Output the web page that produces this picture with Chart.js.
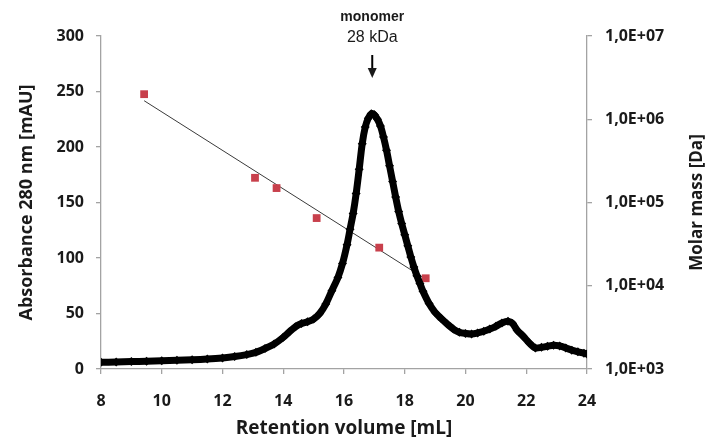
<!DOCTYPE html>
<html>
<head>
<meta charset="utf-8">
<script src="https://cdn.jsdelivr.net/npm/chart.js@4.4.0/dist/chart.umd.min.js"></script>
<style>
    html, body { margin: 0; padding: 0; background: #fff; }
    #wrap { width: 720px; height: 446px; }
</style>
</head>
<body>
<div id="wrap"><canvas id="sec" width="720" height="446"></canvas></div>
<script>
// ===================================
// SEC chromatogram + calibration
// ===================================

// absorbance trace (retention volume mL / mAU)
const volume = [
    8.0, 8.5, 9.0, 9.5, 10.0, 10.5, 11.0, 11.5, 12.0, 12.4, 12.8, 13.1, 13.4, 13.7,
    14.0, 14.2, 14.4, 14.6, 14.8, 15.0, 15.2, 15.4, 15.6, 15.8, 15.95, 16.1, 16.2,
    16.3, 16.4, 16.5, 16.6, 16.7, 16.8, 16.9, 17.0, 17.1, 17.2, 17.3, 17.4, 17.5,
    17.6, 17.7, 17.8, 17.9, 18.0, 18.1, 18.2, 18.3, 18.4, 18.5, 18.6, 18.8, 19.0,
    19.2, 19.4, 19.6, 19.8, 20.0, 20.2, 20.4, 20.6, 20.8, 21.0, 21.2, 21.4, 21.55,
    21.7, 21.9, 22.1, 22.3, 22.5, 22.7, 22.9, 23.1, 23.3, 23.5, 23.7, 23.9, 24.0
];
const absorbance = [
    6.0, 6.3, 6.7, 7.0, 7.4, 7.8, 8.3, 9.0, 10.0, 11.2, 13.0, 15.0, 18.5, 22.5,
    28.5, 33.5, 38.0, 41.0, 42.5, 45.0, 50.0, 58.5, 70.5, 82.5, 95, 112, 126,
    140, 158, 180, 203, 218, 226, 230, 229, 225, 219, 209, 197, 183,
    169, 155, 142, 131, 121, 111, 101, 92, 84, 77, 70, 59, 51,
    45.5, 40.5, 36, 33, 32, 31.5, 32.5, 34, 36, 38.5, 41.5, 43, 41,
    35, 29.5, 23.5, 19, 19.5, 20.5, 21.5, 20.8, 19, 17, 15.5, 14.3, 13.5
];

// calibration standards (mL / Da)
const stdVolume = [9.42, 13.07, 13.78, 15.10, 17.16, 18.69];
const stdMass = [2.0e6, 1.98e5, 1.49e5, 6.5e4, 2.87e4, 1.23e4];

// fitted calibration line end points
const fitVolume = [9.42, 18.69];
const fitMass = [1.67e6, 1.2e4];

// axes
const xTicks = [8, 24, 2];
const absTicks = [0, 300, 50];
const massTicks = [1e3, 1e4, 1e5, 1e6, 1e7];

const monomerVolume = 16.93;
const monomerLabel = ['monomer', '28 kDa'];

const AXIS_GREY = '#a3a3a3';
const TEXT = '#1a1a1a';
const FONT = "'Open Sans', 'Noto Sans', sans-serif";

const toPoints = (xs, ys) => xs.map((x, i) => ({ x: x, y: ys[i] }));

const fmtMass = v => '1,0E+' + String(Math.round(Math.log10(v))).padStart(2, '0');

// right title reads bottom-to-top, and the arrow annotation
const extras = {
    id: 'extras',
    afterDraw(chart) {
        const ctx = chart.ctx;
        const area = chart.chartArea;
        ctx.save();
        ctx.fillStyle = TEXT;
        ctx.textAlign = 'center';
        ctx.textBaseline = 'middle';

        // right axis title
        ctx.save();
        ctx.translate(697, (area.top + area.bottom) / 2);
        ctx.rotate(-Math.PI / 2);
        ctx.font = `bold 17px ${FONT}`;
        ctx.fillText('Molar mass [Da]', 0, 0);
        ctx.restore();

        // monomer marker
        const px = chart.scales.x.getPixelForValue(monomerVolume);
        ctx.font = "bold 14px 'Liberation Sans', Arial, sans-serif";
        ctx.fillText(monomerLabel[0], px, 17);
        ctx.font = "16px 'Liberation Sans', Arial, sans-serif";
        ctx.fillText(monomerLabel[1], px, 38);

        ctx.strokeStyle = '#000';
        ctx.lineWidth = 2;
        ctx.beginPath();
        ctx.moveTo(px, 55);
        ctx.lineTo(px, 71);
        ctx.stroke();
        ctx.beginPath();
        ctx.moveTo(px - 4.5, 68);
        ctx.lineTo(px + 4.5, 68);
        ctx.lineTo(px, 78);
        ctx.closePath();
        ctx.fill();
        ctx.restore();
    }
};

const axisGrid = {
    display: true,
    drawOnChartArea: false,
    drawTicks: true,
    tickLength: 5,
    color: AXIS_GREY,
    lineWidth: 1.3
};
const axisBorder = { display: true, color: AXIS_GREY, width: 1.3 };
const tickFont = { family: FONT, size: 16, weight: 'bold' };

new Chart(document.getElementById('sec'), {
    type: 'scatter',
    data: {
        datasets: [
            {
                label: 'Absorbance',
                data: toPoints(volume, absorbance),
                yAxisID: 'y',
                showLine: true,
                borderColor: '#000',
                borderWidth: 7,
                backgroundColor: '#000',
                pointStyle: 'rectRot',
                pointRadius: 4.5,
                pointBorderWidth: 0,
                tension: 0.3,
                order: 1
            },
            {
                label: 'Fit',
                data: toPoints(fitVolume, fitMass),
                yAxisID: 'y2',
                showLine: true,
                borderColor: '#3a3a3a',
                borderWidth: 1,
                pointRadius: 0,
                order: 3
            },
            {
                label: 'Standards',
                data: toPoints(stdVolume, stdMass),
                yAxisID: 'y2',
                backgroundColor: '#c8404c',
                borderWidth: 0,
                pointStyle: 'rect',
                pointRadius: 5.5,
                order: 2
            }
        ]
    },
    options: {
        responsive: false,
        animation: false,
        devicePixelRatio: 1,
        layout: { padding: { top: 36, left: 0, right: 0, bottom: 0 } },
        plugins: {
            legend: { display: false },
            tooltip: { enabled: false }
        },
        scales: {
            x: {
                type: 'linear',
                min: xTicks[0],
                max: xTicks[1],
                ticks: { stepSize: xTicks[2], color: TEXT, font: tickFont, padding: 18 },
                grid: axisGrid,
                border: axisBorder,
                title: {
                    display: true,
                    text: 'Retention volume [mL]',
                    color: TEXT,
                    font: { family: FONT, size: 19, weight: 'bold' },
                    padding: { top: 0, bottom: 6 }
                },
                afterFit: s => { s.height = 77; }
            },
            y: {
                type: 'linear',
                position: 'left',
                min: absTicks[0],
                max: absTicks[1],
                ticks: { stepSize: absTicks[2], color: TEXT, font: tickFont, padding: 12 },
                grid: axisGrid,
                border: axisBorder,
                title: {
                    display: true,
                    text: 'Absorbance 280 nm [mAU]',
                    color: TEXT,
                    font: { family: FONT, size: 18, weight: 'bold' },
                    padding: { top: 16, bottom: 0 }
                },
                afterFit: s => { s.width = 101; }
            },
            y2: {
                type: 'logarithmic',
                position: 'right',
                min: massTicks[0],
                max: massTicks[massTicks.length - 1],
                afterBuildTicks: s => { s.ticks = massTicks.map(v => ({ value: v })); },
                ticks: { color: TEXT, font: tickFont, padding: 13, callback: v => fmtMass(v) },
                grid: axisGrid,
                border: axisBorder,
                afterFit: s => { s.width = 133; }
            }
        }
    },
    plugins: [extras]
});
</script>
</body>
</html>
